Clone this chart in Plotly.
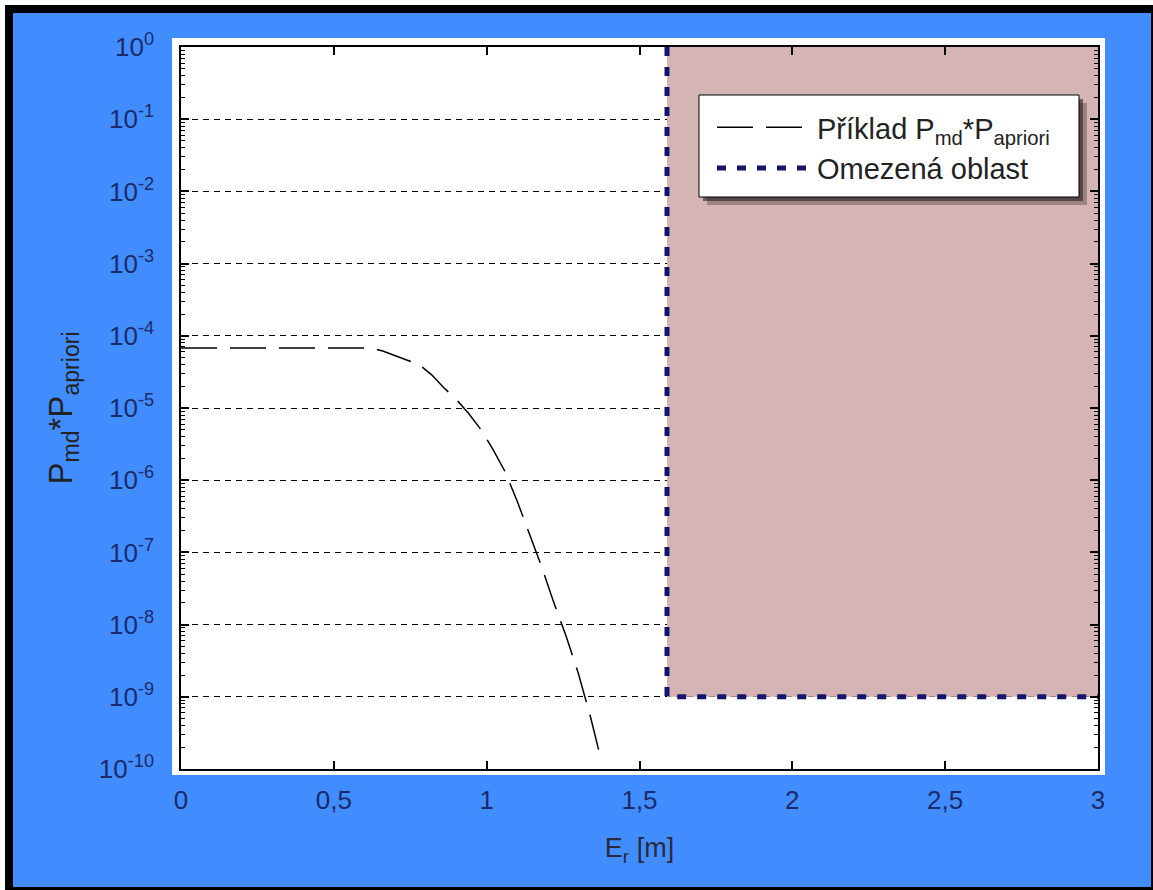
import plotly.graph_objects as go

# ---- data ----
curve_x = [0, 0.62, 0.66, 0.70, 0.74, 0.78, 0.82, 0.86, 0.90, 0.94, 0.98,
           1.02, 1.06, 1.10, 1.14, 1.18, 1.22, 1.26, 1.30, 1.34, 1.376]
curve_y = [6.76e-5, 6.76e-5, 6.17e-5, 5.37e-5, 4.57e-5, 3.98e-5, 2.88e-5,
           1.91e-5, 1.32e-5, 8.5e-6, 5.1e-6, 2.7e-6, 1.32e-6, 5.1e-7,
           1.8e-7, 6.3e-8, 2.0e-8, 6.9e-9, 2.1e-9, 5.2e-10, 1.26e-10]

region_x = [1.59, 1.59, 3.0, 3.0]
region_y = [1.0, 1e-9, 1e-9, 1.0]
border_x = [1.59, 1.59, 3.0]
border_y = [1.0, 1e-9, 1e-9]

x_tickvals = [0, 0.5, 1, 1.5, 2, 2.5, 3]
x_ticktext = ["0", "0,5", "1", "1,5", "2", "2,5", "3"]
y_exponents = [0, -1, -2, -3, -4, -5, -6, -7, -8, -9, -10]
y_tickvals = [10.0 ** e for e in y_exponents]
y_ticktext = ["10<sup>%d</sup>" % e for e in y_exponents]

curve_name = "Příklad P<sub>md</sub>*P<sub>apriori</sub>"
region_name = "Omezená oblast"

# ---- layout geometry (pixels) ----
W, H = 1153, 890
L, R, T, B = 181, 1098, 47, 769
PW, PH = R - L, B - T


def px(x):
    return (x - L) / PW


def py(y):
    return (B - y) / PH


FONT = "Liberation Sans, Arial, sans-serif"
NAVY = "#1b2a6b"
BLUE = "#418dff"

fig = go.Figure()

fig.add_trace(go.Scatter(
    x=region_x, y=region_y, mode="lines", fill="toself",
    fillcolor="#d4b4b4", line=dict(width=0), showlegend=False,
    hoverinfo="skip"))

fig.add_trace(go.Scatter(
    x=curve_x, y=curve_y, mode="lines", name=curve_name,
    line=dict(color="black", width=1.5, dash="36px,13px")))

fig.add_trace(go.Scatter(
    x=border_x, y=border_y, mode="lines", name=region_name,
    line=dict(color="#14146a", width=5, dash="9px,11px")))

# invisible trace so the minor-tick overlay axis is drawn
fig.add_trace(go.Scatter(
    x=[curve_x[0]], y=[curve_y[0]], yaxis="y2", mode="markers",
    marker=dict(opacity=0), showlegend=False, hoverinfo="skip"))

shapes = [
    dict(type="rect", xref="paper", yref="paper", layer="below",
         x0=px(5), x1=px(1153), y0=py(890), y1=py(5),
         fillcolor="black", line=dict(width=0)),
    dict(type="rect", xref="paper", yref="paper", layer="below",
         x0=px(13), x1=px(1151), y0=py(887), y1=py(13),
         fillcolor=BLUE, line=dict(width=0)),
    dict(type="rect", xref="paper", yref="paper", layer="below",
         x0=px(172), x1=px(1105), y0=py(775), y1=py(38),
         fillcolor="white", line=dict(width=0)),
    # legend shadow and box
    dict(type="rect", xref="paper", yref="paper", layer="above",
         x0=px(707), x1=px(1087), y0=py(205), y1=py(103),
         fillcolor="rgba(60,40,40,0.35)", line=dict(width=0)),
    dict(type="rect", xref="paper", yref="paper", layer="above",
         x0=px(703), x1=px(1083), y0=py(201), y1=py(99),
         fillcolor="rgba(40,30,30,0.6)", line=dict(width=0)),
    dict(type="rect", xref="paper", yref="paper", layer="above",
         x0=px(699), x1=px(1079), y0=py(197), y1=py(95),
         fillcolor="white", line=dict(color="black", width=1)),
]

fig.update_layout(
    width=W, height=H,
    margin=dict(l=L, r=W - R, t=T, b=H - B, pad=0),
    paper_bgcolor="white", plot_bgcolor="white",
    font=dict(family=FONT),
    shapes=shapes,
    showlegend=True,
    legend=dict(x=px(712), y=py(102), xanchor="left", yanchor="top",
                bgcolor="rgba(0,0,0,0)", borderwidth=0,
                font=dict(size=29, color="#222222", family=FONT),
                itemwidth=95),
    xaxis=dict(range=[0, 3], tickmode="array", tickvals=x_tickvals,
               ticktext=x_ticktext, ticks="inside", ticklen=8,
               tickcolor="black", tickwidth=1.5,
               showline=True, linecolor="black", linewidth=1.5,
               mirror="ticks", showgrid=False, zeroline=False,
               tickfont=dict(size=26, color=NAVY, family=FONT),
               ticklabelstandoff=7,
               title=dict(text="E<sub>r</sub> [m]", standoff=24,
                          font=dict(size=27, color="#2a2a3a", family=FONT))),
    yaxis=dict(type="log", range=[-10, 0], tickmode="array",
               tickvals=y_tickvals, ticktext=y_ticktext,
               ticks="inside", ticklen=8, tickcolor="black", tickwidth=1.5,
               showline=True, linecolor="black", linewidth=1.5,
               mirror="ticks", zeroline=False,
               showgrid=True, gridcolor="black", gridwidth=1,
               griddash="6px,5px",
               tickfont=dict(size=26, color=NAVY, family=FONT),
               ticklabelstandoff=20,
               title=dict(text="P<sub>md</sub>*P<sub>apriori</sub>",
                          standoff=16,
                          font=dict(size=33, color="#222222", family=FONT))),
    yaxis2=dict(type="log", range=[-10, 0], overlaying="y", side="left",
                dtick="D1", ticks="inside", ticklen=4, tickcolor="black",
                tickwidth=1, showticklabels=False, showgrid=False,
                zeroline=False, showline=True, linecolor="black",
                linewidth=1.5, mirror="ticks"),
)

fig.write_html("out.html", post_script="document.body.style.margin='0px';",
               config={"displayModeBar": False})
